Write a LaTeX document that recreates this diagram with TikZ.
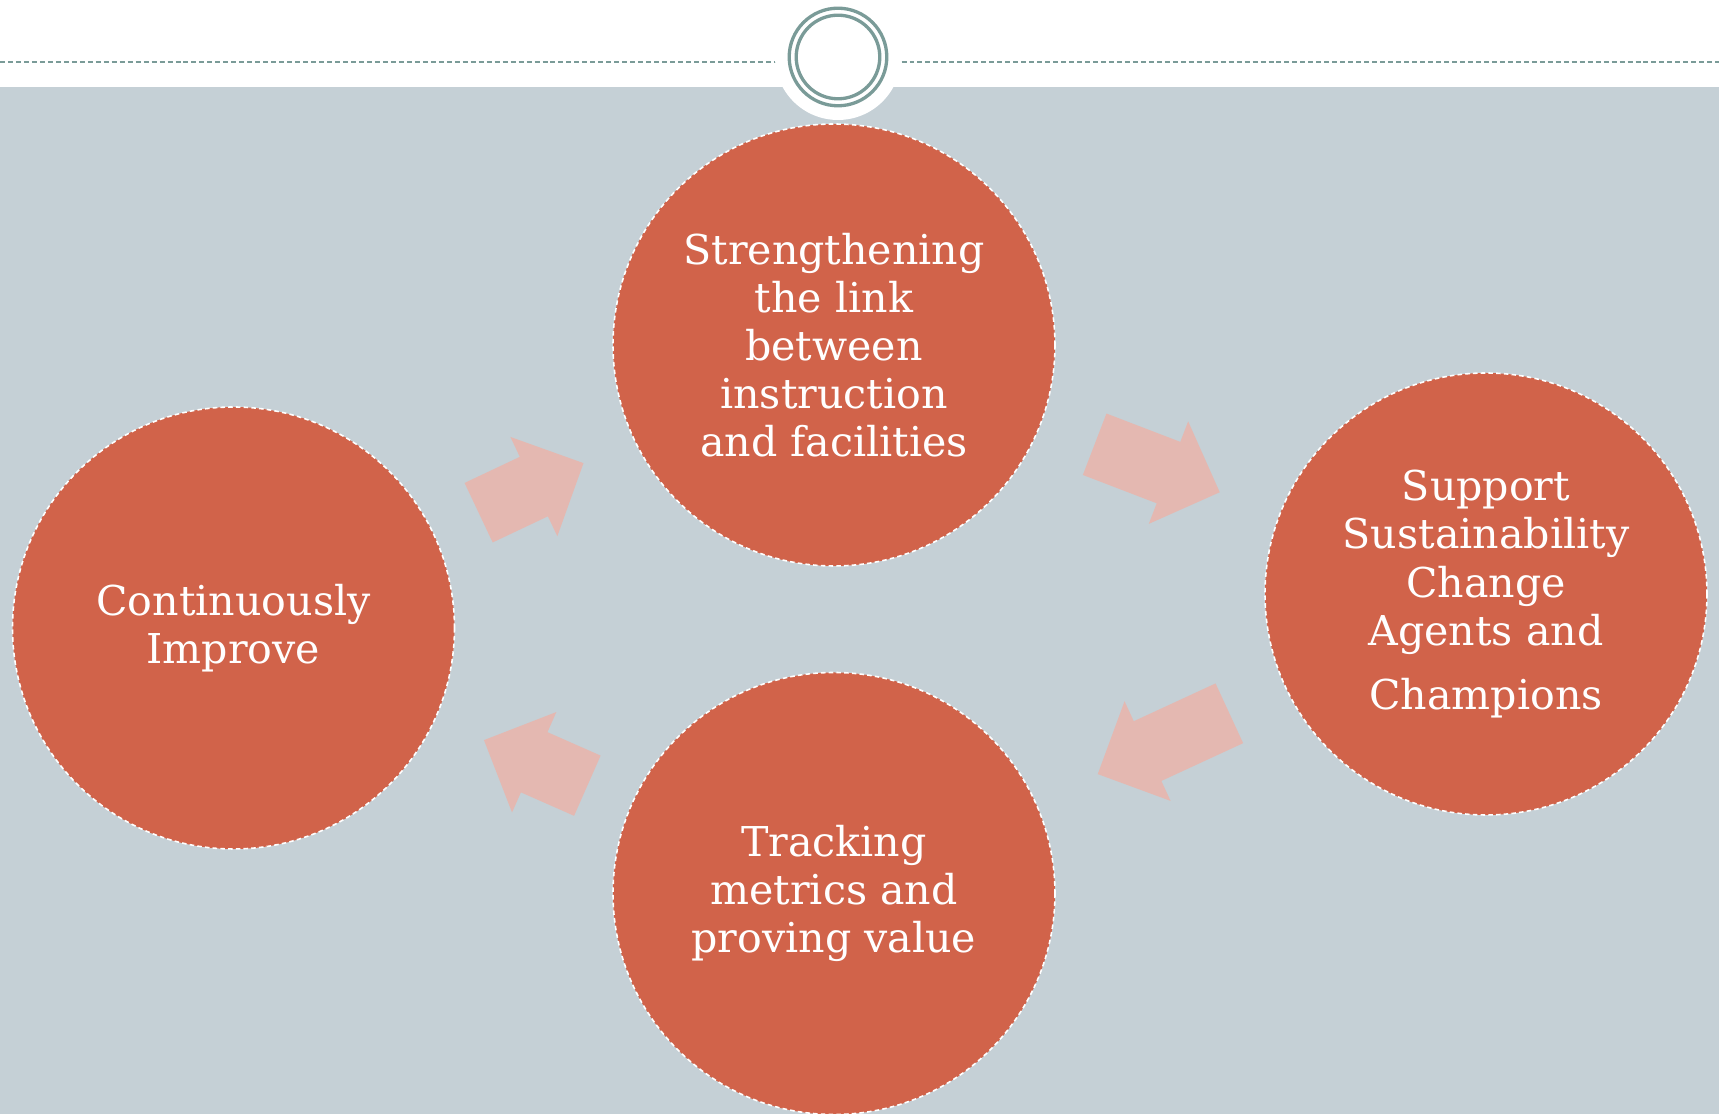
\documentclass[tikz,border=0pt]{standalone}
\usepackage{fontspec}
\setmainfont{DejaVu Serif}
\usetikzlibrary{shapes.arrows,positioning}
\definecolor{slate}{HTML}{C5D0D6}
\definecolor{ringLine}{HTML}{7A9B98}
\definecolor{stepFill}{HTML}{D1634A}
\definecolor{flowFill}{HTML}{E4B8B1}
\tikzset{
  % --- cycle steps ----------------------------------------------------------
  stepcircle/.style = {circle, fill=stepFill, draw=white, line width=0.45pt,
                       dash pattern=on 1.3pt off 0.9pt, minimum size=44.2mm,
                       inner sep=0pt, text=white, align=center,
                       font=\fontsize{11.7}{13.7}\selectfont},
  % --- block arrows between the steps --------------------------------------
  flowarrow/.style  = {single arrow, fill=flowFill, draw=none,
                       inner xsep=0pt, inner ysep=3.22mm,
                       single arrow head extend=2.2mm,
                       single arrow tip angle=90, anchor=tail},
  % --- header ornament ------------------------------------------------------
  rule/.style       = {draw=ringLine, line width=0.57pt,
                       dash pattern=on 1.42pt off 0.85pt},
  ring/.style       = {draw=ringLine, line width=0.94pt},
}

\begin{document}
\begin{tikzpicture}
\useasboundingbox (0,0) rectangle (17.19,11.14);

% ============================ header band ==================================
\fill[slate] (0,0) rectangle (17.19,10.27);
\draw[rule] (0,10.52) -- (17.19,10.52);
\fill[white] (8.38,10.57) circle (0.63);
\draw[ring] (8.38,10.57) circle (0.488);
\draw[ring] (8.38,10.57) circle (0.418);

% ============================ the four steps ===============================
\node[stepcircle] (strengthen) at (8.34,7.69)
     {Strengthening\\the link\\between\\instruction\\and facilities};
\node[stepcircle] (support)    at (14.86,5.20)
     {Support\\Sustainability\\Change\\Agents and\\[4.5pt]Champions};
\node[stepcircle] (tracking)   at (8.34,2.205)
     {Tracking\\metrics and\\proving value};
\node[stepcircle] (improve)    at (2.335,4.86)
     {Continuously\\Improve};

% ============================ the flow arrows ==============================
\node[flowarrow, minimum height=13.4mm, rotate=-21]   (toSupport)    at (10.94,6.70) {};
\node[flowarrow, minimum height=14.5mm, rotate=204.8] (toTracking)   at (12.30,4.01) {};
\node[flowarrow, minimum height=11.3mm, rotate=156.2] (toImprove)    at (5.88,3.28)  {};
\node[flowarrow, minimum height=11.6mm, rotate=25.3]  (toStrengthen) at (4.78,6.01)  {};

\end{tikzpicture}
\end{document}
